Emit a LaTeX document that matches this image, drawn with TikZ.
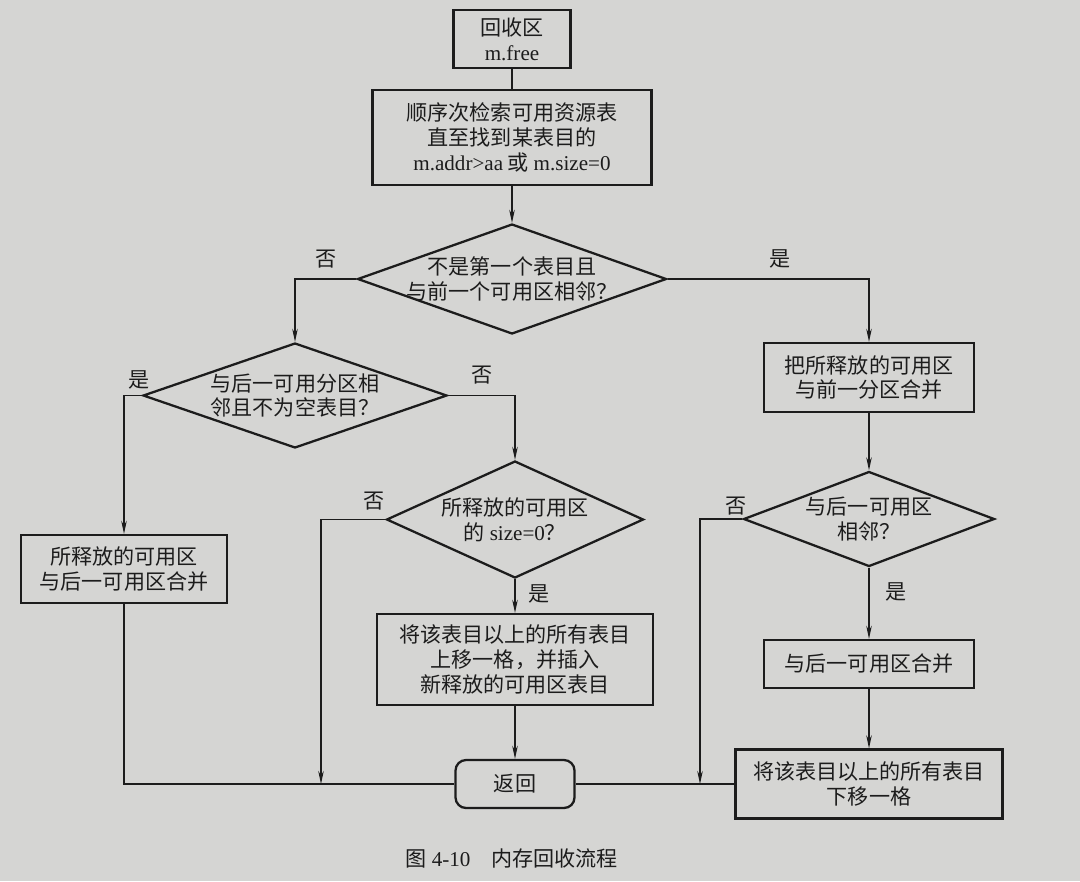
\documentclass[tikz,border=0pt]{standalone}
\usepackage{fontspec}
\setmainfont{Liberation Serif}
\newfontfamily\cjk{Noto Sans CJK SC}
\usepackage{xcolor}
\usetikzlibrary{positioning,arrows.meta,shapes.geometric}
\definecolor{paper}{RGB}{213,213,211}
\definecolor{ink}{RGB}{28,28,28}
\newcommand\latn[1]{{\rmfamily #1}}

\begin{document}
\begin{tikzpicture}[x=0.2mm, y=-0.2mm, font=\cjk\fontsize{12}{14}\selectfont,
  >={Stealth[length=2.6mm, width=1.1mm]},
  box/.style={draw=ink, line width=1.3pt, align=center, inner sep=2pt, text=ink},
  dia/.style={draw=ink, line width=1.3pt, diamond, inner sep=0pt},
  dtxt/.style={align=center, inner sep=0pt, text=ink},
  ln/.style={draw=ink, line width=0.8pt},
  yn/.style={inner sep=0pt, text=ink}]
\fill[paper] (0,0) rectangle (1080,881);
% main column
\node[box, minimum width=2.34cm, minimum height=1.16cm] (recv) at (512,39) {回收区\\\latn{m.free}};
\node[box, minimum width=5.58cm, minimum height=1.9cm] (scan) at (512,137.5) {顺序次检索可用资源表\\直至找到某表目的\\\latn{m.addr>aa} 或 \latn{m.size=0}};
\node[dia, minimum width=6.18cm, minimum height=2.2cm, label={[dtxt]center:{不是第一个表目且\\与前一个可用区相邻？}}] (dprev) at (512,279) {};
% left branch
\node[dia, minimum width=6.08cm, minimum height=2.1cm, label={[dtxt]center:{与后一可用分区相\\邻且不为空表目？}}] (dnext) at (295,395.5) {};
\node[box, minimum width=4.12cm, minimum height=1.36cm] (mergeboth) at (124,569) {所释放的可用区\\与后一可用区合并};
\node[dia, minimum width=5.14cm, minimum height=2.34cm, label={[dtxt]center:{所释放的可用区\\的 \latn{size=0}？}}] (dsize) at (515,519.5) {};
\node[box, minimum width=5.52cm, minimum height=1.82cm] (insert) at (515,659.5) {将该表目以上的所有表目\\上移一格，并插入\\新释放的可用区表目};
\node[box, rounded corners=6pt, minimum width=2.38cm, minimum height=0.96cm] (ret) at (515,784) {返回};
% right branch
\node[box, minimum width=4.2cm, minimum height=1.38cm] (mergeprev) at (869,377.5) {把所释放的可用区\\与前一分区合并};
\node[dia, minimum width=5.02cm, minimum height=1.9cm, label={[dtxt]center:{与后一可用区\\相邻？}}] (dnext2) at (869,519) {};
\node[box, minimum width=4.2cm, minimum height=0.96cm] (mergenext) at (869,664) {与后一可用区合并};
\node[box, minimum width=5.34cm, minimum height=1.38cm] (shiftdown) at (869,784) {将该表目以上的所有表目\\下移一格};
\coordinate (j1) at (321,784);
\coordinate (j2) at (700,784);
\node[text=ink] (caption) at (512,858) {图 \latn{4-10}\quad 内存回收流程};

\draw[ln] (recv) -- (scan);
\draw[ln, ->] (scan) -- (dprev);
\draw[ln, ->] (dprev.west) -| node[yn, pos=0.25, above=6pt]{否} (dnext.north);
\draw[ln, ->] (dprev.east) -| node[yn, pos=0.28, above=6pt]{是} (mergeprev.north);
\draw[ln, ->] (dnext.west) -| node[yn, pos=0.08, above=3pt]{是} (mergeboth.north);
\draw[ln, ->] (dnext.east) -| node[yn, pos=0.25, above=6pt]{否} (dsize.north);
\draw[ln, ->] (dsize.west) -| node[yn, pos=0.09, above=5pt]{否} (j1);
\draw[ln, ->] (dsize.south) -- node[yn, pos=0.45, right=7pt]{是} (insert.north);
\draw[ln, ->] (insert) -- (ret);
\draw[ln] (mergeboth.south) |- (ret.west);
\draw[ln, ->] (mergeprev) -- (dnext2);
\draw[ln, ->] (dnext2.west) -| node[yn, pos=0.08, above=2pt]{否} (j2);
\draw[ln, ->] (dnext2.south) -- node[yn, pos=0.34, right=9pt]{是} (mergenext.north);
\draw[ln, ->] (mergenext) -- (shiftdown);
\draw[ln] (shiftdown) -- (ret);
\end{tikzpicture}
\end{document}
